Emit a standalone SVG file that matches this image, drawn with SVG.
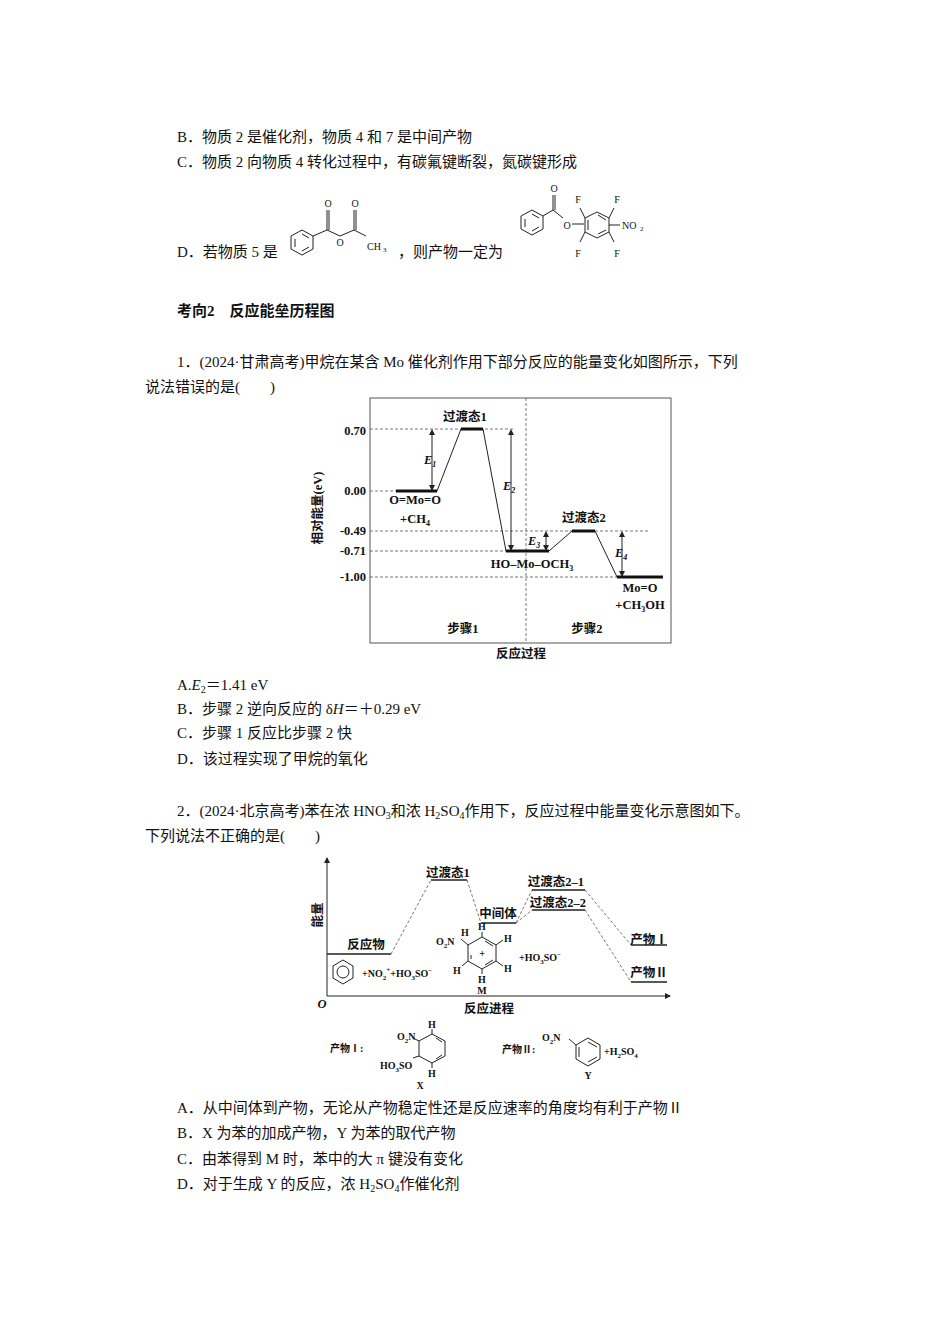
<svg xmlns="http://www.w3.org/2000/svg" width="950" height="1344" viewBox="0 0 950 1344">
<style>
text{font-family:"Liberation Serif","Noto Sans CJK SC",serif;fill:#111}
.t{font-size:15px}
.s{font-size:12.5px;font-weight:bold}
.xs{font-size:10px}
.b{font-weight:bold}
.ln{stroke:#222;stroke-width:1;fill:none}
.lv{stroke:#111;stroke-width:3}
.lv2{stroke:#222;stroke-width:1.6}
.d{stroke:#555;stroke-width:0.8;stroke-dasharray:3,2;fill:none}
.hd{fill:#222}
</style>
<defs>
<marker id="ah" markerWidth="6" markerHeight="6" refX="5" refY="3" orient="auto"><path d="M0,0L6,3L0,6z" fill="#222"/></marker>
</defs>
<rect width="950" height="1344" fill="#fff"/>
<g id="text-top">
<text class="t" x="177" y="142">B．物质 2 是催化剂，物质 4 和 7 是中间产物</text>
<text class="t" x="177" y="167">C．物质 2 向物质 4 转化过程中，有碳氟键断裂，氮碳键形成</text>
<text class="t" x="177" y="257">D．若物质 5 是</text>
<text class="t" x="398" y="257">，则产物一定为</text>
<text class="t b" x="177" y="316">考向2　反应能垒历程图</text>
<text class="t" x="177" y="367">1．(2024·甘肃高考)甲烷在某含 Mo 催化剂作用下部分反应的能量变化如图所示，下列</text>
<text class="t" x="145" y="392">说法错误的是(　　)</text>
</g>
<g id="struct-d1" class="ln">
<polygon points="302,230 313,236 313,249 302,255 291,249 291,236"/>
<path d="M295,239L295,247M302,251L309,247M309,238L302,234"/>
<path d="M313,236L327,230L340,236L354,230L366,236M327,230L327,210M329,230L329,210M354,230L354,210M356,230L356,210"/>
</g>
<g id="struct-d1-text">
<text class="xs" x="328" y="207" text-anchor="middle">O</text>
<text class="xs" x="355" y="207" text-anchor="middle">O</text>
<text class="xs" x="340" y="246" text-anchor="middle">O</text>
<text class="xs" x="367" y="250">CH</text><text x="383" y="252" style="font-size:7px">3</text>
</g>
<g id="struct-d2" class="ln">
<polygon points="532,210 543,216 543,229 532,235 521,229 521,216"/>
<path d="M525,219L525,227M532,231L539,227M539,218L532,214"/>
<path d="M543,216L553,210L563,218M553,210L553,195M555,210L555,195M572,224L584,224"/>
<polygon points="597,212 609,218 609,232 597,238 585,232 585,218"/>
<path d="M588,220L588,230M598,234L606,230M606,220L598,215"/>
<path d="M585,218L580,208M609,218L614,208M585,232L580,242M609,232L614,242M609,225L620,225"/>
</g>
<g id="struct-d2-text">
<text class="xs" x="554" y="192" text-anchor="middle">O</text>
<text class="xs" x="567" y="229" text-anchor="middle">O</text>
<text class="xs" x="578" y="203" text-anchor="middle">F</text>
<text class="xs" x="617" y="203" text-anchor="middle">F</text>
<text class="xs" x="578" y="257" text-anchor="middle">F</text>
<text class="xs" x="617" y="257" text-anchor="middle">F</text>
<text class="xs" x="622" y="229">NO</text><text x="640" y="231" style="font-size:7px">2</text>
</g>

<g id="diagram1">
<rect x="370" y="398" width="301" height="245" fill="none" stroke="#555" stroke-width="1"/>
<g id="d1-connectors">
<path class="d" d="M526,398V643M370,429H515M370,491H396M370,531H648M370,551H506M370,577H617"/>
<path class="ln" d="M437,491L461,429M483,429L506,551M549,551L572,531M595,531L617,577"/>
<path class="ln" d="M432,434V486M511,434V546M546,536V546M622,536V572"/>
<path class="hd" d="M432,429l-3,6h6zM432,491l-3,-6h6zM511,429l-3,6h6zM511,551l-3,-6h6zM546,531l-3,6h6zM546,551l-3,-6h6zM622,531l-3,6h6zM622,577l-3,-6h6z"/>
</g>
<g id="d1-levels">
<path class="lv" d="M396,491H437M461,429H483M506,551H549M572,531H595M617,577H663"/>
</g>
<g id="d1-labels" class="s">
<text x="366" y="435" text-anchor="end">0.70</text>
<text x="366" y="495" text-anchor="end">0.00</text>
<text x="366" y="535" text-anchor="end">-0.49</text>
<text x="366" y="555" text-anchor="end">-0.71</text>
<text x="366" y="581" text-anchor="end">-1.00</text>
<text transform="translate(322,508) rotate(-90)" text-anchor="middle">相对能量(eV)</text>
<text x="465" y="421" text-anchor="middle">过渡态1</text>
<text x="584" y="522" text-anchor="middle">过渡态2</text>
<text x="415" y="504" text-anchor="middle">O=Mo=O</text>
<text x="415" y="523" text-anchor="middle">+CH<tspan style="font-size:8px" dy="3">4</tspan></text>
<text x="532" y="568" text-anchor="middle">HO–Mo–OCH<tspan style="font-size:8px" dy="3">3</tspan></text>
<text x="640" y="592" text-anchor="middle">Mo=O</text>
<text x="640" y="609" text-anchor="middle">+CH<tspan style="font-size:8px" dy="3">3</tspan><tspan dy="-3">OH</tspan></text>
<text x="424" y="464" font-style="italic">E<tspan style="font-size:8px" dy="3">1</tspan></text>
<text x="503" y="490" font-style="italic">E<tspan style="font-size:8px" dy="3">2</tspan></text>
<text x="528" y="545" font-style="italic">E<tspan style="font-size:8px" dy="3">3</tspan></text>
<text x="615" y="557" font-style="italic">E<tspan style="font-size:8px" dy="3">4</tspan></text>
<text x="463" y="633" text-anchor="middle">步骤1</text>
<text x="587" y="633" text-anchor="middle">步骤2</text>
<text x="521" y="658" text-anchor="middle">反应过程</text>
</g>
</g>

<g id="options1" class="t">
<text x="177" y="690">A.<tspan font-style="italic">E</tspan><tspan style="font-size:10px" dy="3">2</tspan><tspan dy="-3">＝1.41 eV</tspan></text>
<text x="177" y="714">B．步骤 2 逆向反应的 δ<tspan font-style="italic">H</tspan>＝＋0.29 eV</text>
<text x="177" y="738">C．步骤 1 反应比步骤 2 快</text>
<text x="177" y="764">D．该过程实现了甲烷的氧化</text>
<text x="177" y="816">2．(2024·北京高考)苯在浓 HNO<tspan style="font-size:10px" dy="3">3</tspan><tspan dy="-3">和浓 H</tspan><tspan style="font-size:10px" dy="3">2</tspan><tspan dy="-3">SO</tspan><tspan style="font-size:10px" dy="3">4</tspan><tspan dy="-3">作用下，反应过程中能量变化示意图如下。</tspan></text>
<text x="145" y="841">下列说法不正确的是(　　)</text>
</g>

<g id="diagram2">
<g id="d2-axes">
<path class="ln" marker-end="url(#ah)" d="M327,996V858"/>
<path class="ln" marker-end="url(#ah)" d="M327,996H670"/>
</g>
<g id="d2-connectors">
<path class="d" d="M391,954L431,880M467,880L481,923M516,923L532,890M516,923L532,910M585,890L631,945M585,910L631,982"/>
</g>
<g id="d2-levels">
<path class="lv2" d="M327,954H391M431,880H467M481,923H516M532,890H585M532,910H585M631,945H667M631,982H667"/>
</g>
<g id="d2-labels" class="s">
<text x="322" y="1008" font-style="italic" text-anchor="middle">O</text>
<text transform="translate(322,915) rotate(-90)" text-anchor="middle">能量</text>
<text x="448" y="877" text-anchor="middle">过渡态1</text>
<text x="498" y="918" text-anchor="middle">中间体</text>
<text x="556" y="886" text-anchor="middle">过渡态2–1</text>
<text x="558" y="907" text-anchor="middle">过渡态2–2</text>
<text x="366" y="949" text-anchor="middle">反应物</text>
<text x="649" y="944" text-anchor="middle">产物Ⅰ</text>
<text x="649" y="977" text-anchor="middle">产物Ⅱ</text>
<text x="489" y="1013" text-anchor="middle">反应进程</text>
</g>
<g id="d2-reactant" class="ln">
<polygon points="343,960 353,966 353,978 343,984 333,978 333,966"/>
<circle cx="343" cy="972" r="6"/>
</g>
<text class="xs b" x="362" y="977">+NO<tspan style="font-size:7px" dy="3">2</tspan><tspan style="font-size:7px" dy="-8">+</tspan><tspan dy="5">+HO</tspan><tspan style="font-size:7px" dy="3">3</tspan><tspan dy="-3">SO</tspan><tspan style="font-size:7px" dy="-4">−</tspan></text>
<g id="d2-M" class="ln">
<polygon points="482,937 496,945 496,961 482,969 468,961 468,945"/>
<path d="M485,941L493,946M493,960L485,965M471,959L471,955"/>
<path d="M468,945L461,939M482,937L482,932M496,945L503,940M496,961L503,966M468,961L462,966M482,969L482,974"/>
</g>
<g id="d2-M-text" class="xs b">
<text x="482" y="957" text-anchor="middle">+</text>
<text x="436" y="945">O<tspan style="font-size:7px" dy="3">2</tspan><tspan dy="-3">N</tspan></text>
<text x="465" y="936" text-anchor="middle">H</text>
<text x="482" y="930" text-anchor="middle">H</text>
<text x="508" y="942" text-anchor="middle">H</text>
<text x="508" y="972" text-anchor="middle">H</text>
<text x="457" y="974" text-anchor="middle">H</text>
<text x="482" y="983" text-anchor="middle">H</text>
<text x="482" y="994" text-anchor="middle">M</text>
<text x="519" y="961">+HO<tspan style="font-size:7px" dy="3">3</tspan><tspan dy="-3">SO</tspan><tspan style="font-size:7px" dy="-4">−</tspan></text>
</g>
<g id="product1" class="ln">
<polygon points="432,1034 445,1041 445,1056 432,1063 419,1056 419,1041"/>
<path d="M436,1038L442,1042M442,1055L436,1059M432,1034L432,1029M432,1063L432,1068M419,1041L413,1038M419,1056L413,1058"/>
</g>
<g id="product1-text" class="xs b">
<text x="330" y="1052">产物Ⅰ:</text>
<text x="397" y="1040">O<tspan style="font-size:7px" dy="3">2</tspan><tspan dy="-3">N</tspan></text>
<text x="432" y="1028" text-anchor="middle">H</text>
<text x="380" y="1069">HO<tspan style="font-size:7px" dy="3">3</tspan><tspan dy="-3">SO</tspan></text>
<text x="432" y="1077" text-anchor="middle">H</text>
<text x="420" y="1089" text-anchor="middle">X</text>
</g>
<g id="product2" class="ln">
<polygon points="588,1038 600,1045 600,1059 588,1066 576,1059 576,1045"/>
<path d="M579,1047L579,1057M588,1062L597,1057M597,1047L588,1042M576,1045L569,1039"/>
</g>
<g id="product2-text" class="xs b">
<text x="502" y="1053">产物Ⅱ:</text>
<text x="542" y="1041">O<tspan style="font-size:7px" dy="3">2</tspan><tspan dy="-3">N</tspan></text>
<text x="604" y="1055">+H<tspan style="font-size:7px" dy="3">2</tspan><tspan dy="-3">SO</tspan><tspan style="font-size:7px" dy="3">4</tspan></text>
<text x="588" y="1079" text-anchor="middle">Y</text>
</g>
</g>

<g id="options2" class="t">
<text x="177" y="1113">A．从中间体到产物，无论从产物稳定性还是反应速率的角度均有利于产物Ⅱ</text>
<text x="177" y="1138">B．X 为苯的加成产物，Y 为苯的取代产物</text>
<text x="177" y="1164">C．由苯得到 M 时，苯中的大 π 键没有变化</text>
<text x="177" y="1189">D．对于生成 Y 的反应，浓 H<tspan style="font-size:10px" dy="3">2</tspan><tspan dy="-3">SO</tspan><tspan style="font-size:10px" dy="3">4</tspan><tspan dy="-3">作催化剂</tspan></text>
</g>
</svg>
